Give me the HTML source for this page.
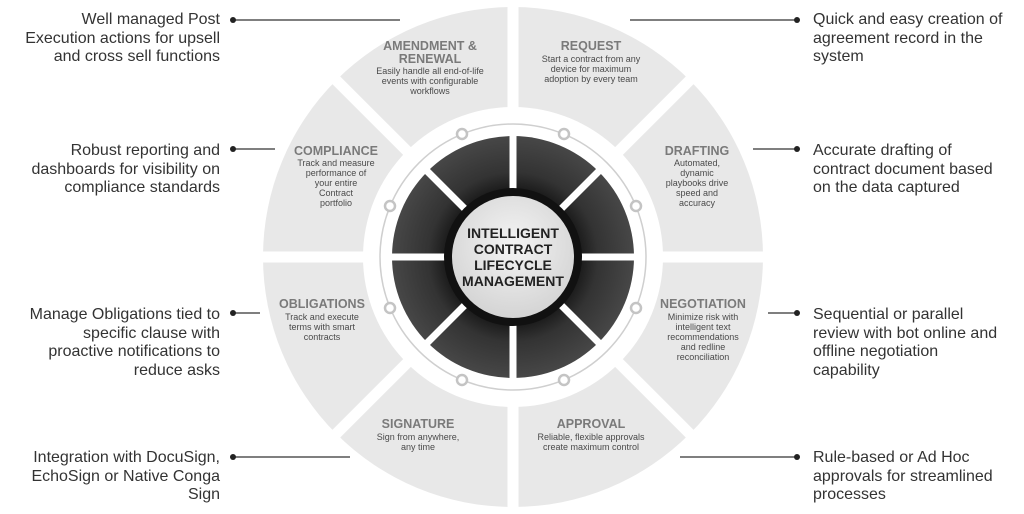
<!DOCTYPE html>
<html><head><meta charset="utf-8"><style>
html,body{margin:0;padding:0;background:#fff;}
svg{display:block;}
.side{font-family:"Liberation Sans",sans-serif;font-size:16px;fill:#333;}
.t{font-family:"Liberation Sans",sans-serif;font-size:12.5px;font-weight:bold;fill:#7a7a7a;text-anchor:middle;}
.d{font-family:"Liberation Sans",sans-serif;font-size:9px;fill:#4a4a4a;text-anchor:middle;}
.c{font-family:"Liberation Sans",sans-serif;font-size:14px;font-weight:bold;fill:#222;text-anchor:middle;}
</style></head><body>
<svg width="1024" height="514" viewBox="0 0 1024 514" xmlns="http://www.w3.org/2000/svg">
<defs>
<radialGradient id="cg" cx="50%" cy="40%" r="60%"><stop offset="0" stop-color="#f4f4f4"/><stop offset="1" stop-color="#d4d4d4"/></radialGradient>
<radialGradient id="dg" cx="50%" cy="50%" r="50%"><stop offset="0.55" stop-color="#1a1a1a"/><stop offset="0.7" stop-color="#333"/><stop offset="1" stop-color="#474747"/></radialGradient>
</defs>
<circle cx="513" cy="257" r="250" fill="#e8e8e8"/>
<g stroke="#fff" stroke-width="11">
<line x1="513" y1="0" x2="513" y2="514"/>
<line x1="250" y1="257" x2="776" y2="257"/>
<line x1="327" y1="71" x2="699" y2="443"/>
<line x1="699" y1="71" x2="327" y2="443"/>
</g>
<circle cx="513" cy="257" r="150" fill="#fff"/>
<circle cx="513" cy="257" r="133" fill="none" stroke="#cfcfcf" stroke-width="1.5"/>
<circle cx="513" cy="257" r="121" fill="url(#dg)"/>
<g stroke="#fff" stroke-width="7">
<line x1="513" y1="134" x2="513" y2="380"/>
<line x1="390" y1="257" x2="636" y2="257"/>
<line x1="426" y1="170" x2="600" y2="344"/>
<line x1="600" y1="170" x2="426" y2="344"/>
</g>
<circle cx="513" cy="257" r="69" fill="#111"/>
<circle cx="513" cy="257" r="61" fill="url(#cg)"/>
<text class="c" x="513" y="238">INTELLIGENT</text>
<text class="c" x="513" y="254">CONTRACT</text>
<text class="c" x="513" y="270">LIFECYCLE</text>
<text class="c" x="513" y="286">MANAGEMENT</text>
<g fill="#fff" stroke="#c4c4c4" stroke-width="2.5">
<circle cx="462" cy="134" r="5"/><circle cx="564" cy="134" r="5"/>
<circle cx="636" cy="206" r="5"/><circle cx="636" cy="308" r="5"/>
<circle cx="564" cy="380" r="5"/><circle cx="462" cy="380" r="5"/>
<circle cx="390" cy="308" r="5"/><circle cx="390" cy="206" r="5"/>
</g>
<text class="t" x="430" y="50">AMENDMENT &amp;</text>
<text class="t" x="430" y="63">RENEWAL</text>
<text class="d" x="430" y="74">Easily handle all end-of-life</text>
<text class="d" x="430" y="84">events with configurable</text>
<text class="d" x="430" y="94">workflows</text>
<text class="t" x="591" y="50">REQUEST</text>
<text class="d" x="591" y="62">Start a contract from any</text>
<text class="d" x="591" y="72">device for maximum</text>
<text class="d" x="591" y="82">adoption by every team</text>
<text class="t" x="336" y="155">COMPLIANCE</text>
<text class="d" x="336" y="166">Track and measure</text>
<text class="d" x="336" y="176">performance of</text>
<text class="d" x="336" y="186">your entire</text>
<text class="d" x="336" y="196">Contract</text>
<text class="d" x="336" y="206">portfolio</text>
<text class="t" x="697" y="155">DRAFTING</text>
<text class="d" x="697" y="166">Automated,</text>
<text class="d" x="697" y="176">dynamic</text>
<text class="d" x="697" y="186">playbooks drive</text>
<text class="d" x="697" y="196">speed and</text>
<text class="d" x="697" y="206">accuracy</text>
<text class="t" x="322" y="308">OBLIGATIONS</text>
<text class="d" x="322" y="320">Track and execute</text>
<text class="d" x="322" y="330">terms with smart</text>
<text class="d" x="322" y="340">contracts</text>
<text class="t" x="703" y="308">NEGOTIATION</text>
<text class="d" x="703" y="320">Minimize risk with</text>
<text class="d" x="703" y="330">intelligent text</text>
<text class="d" x="703" y="340">recommendations</text>
<text class="d" x="703" y="350">and redline</text>
<text class="d" x="703" y="360">reconciliation</text>
<text class="t" x="418" y="428">SIGNATURE</text>
<text class="d" x="418" y="440">Sign from anywhere,</text>
<text class="d" x="418" y="450">any time</text>
<text class="t" x="591" y="428">APPROVAL</text>
<text class="d" x="591" y="440">Reliable, flexible approvals</text>
<text class="d" x="591" y="450">create maximum control</text>
<g stroke="#333" stroke-width="1.3">
<line x1="233" y1="20" x2="400" y2="20"/>
<line x1="233" y1="149" x2="275" y2="149"/>
<line x1="233" y1="313" x2="260" y2="313"/>
<line x1="233" y1="457" x2="350" y2="457"/>
<line x1="630" y1="20" x2="797" y2="20"/>
<line x1="753" y1="149" x2="797" y2="149"/>
<line x1="768" y1="313" x2="797" y2="313"/>
<line x1="680" y1="457" x2="797" y2="457"/>
</g>
<g fill="#222">
<circle cx="233" cy="20" r="3"/><circle cx="233" cy="149" r="3"/><circle cx="233" cy="313" r="3"/><circle cx="233" cy="457" r="3"/>
<circle cx="797" cy="20" r="3"/><circle cx="797" cy="149" r="3"/><circle cx="797" cy="313" r="3"/><circle cx="797" cy="457" r="3"/>
</g>
<g class="side" text-anchor="end">
<text x="220" y="24">Well managed Post</text>
<text x="220" y="43">Execution actions for upsell</text>
<text x="220" y="61">and cross sell functions</text>
<text x="220" y="155">Robust reporting and</text>
<text x="220" y="174">dashboards for visibility on</text>
<text x="220" y="192">compliance standards</text>
<text x="220" y="319">Manage Obligations tied to</text>
<text x="220" y="338">specific clause with</text>
<text x="220" y="356">proactive notifications to</text>
<text x="220" y="375">reduce asks</text>
<text x="220" y="462">Integration with DocuSign,</text>
<text x="220" y="481">EchoSign or Native Conga</text>
<text x="220" y="499">Sign</text>
</g>
<g class="side">
<text x="813" y="24">Quick and easy creation of</text>
<text x="813" y="43">agreement record in the</text>
<text x="813" y="61">system</text>
<text x="813" y="155">Accurate drafting of</text>
<text x="813" y="174">contract document based</text>
<text x="813" y="192">on the data captured</text>
<text x="813" y="319">Sequential or parallel</text>
<text x="813" y="338">review with bot online and</text>
<text x="813" y="356">offline negotiation</text>
<text x="813" y="375">capability</text>
<text x="813" y="462">Rule-based or Ad Hoc</text>
<text x="813" y="481">approvals for streamlined</text>
<text x="813" y="499">processes</text>
</g>
</svg>
</body></html>
